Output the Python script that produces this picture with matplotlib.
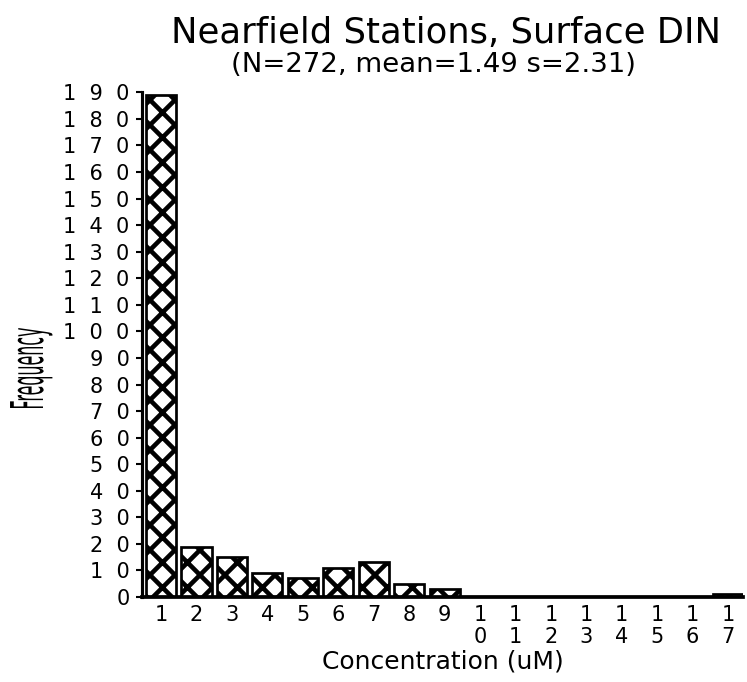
import numpy as np
import matplotlib.pyplot as plt
from matplotlib.textpath import TextPath
from matplotlib.patches import PathPatch
from matplotlib.font_manager import FontProperties
import matplotlib.transforms as mtransforms

# concentration bins (uM) and station counts
bins = list(range(1, 18))
counts = [189, 19, 15, 9, 7, 11, 13, 5, 3, 0, 0, 0, 0, 0, 0, 0, 1]
yticks = list(range(0, 200, 10))

plt.rcParams['hatch.linewidth'] = 2.2
plt.rcParams['font.family'] = 'DejaVu Sans'

W, H = 747, 682
fig = plt.figure(figsize=(W / 150, H / 150), dpi=150)
ax = fig.add_axes([0.190, 0.1246, 0.8046, 0.740])

ax.bar(bins, counts, width=0.85, color='white', edgecolor='black',
       linewidth=1.3, hatch='xx')

ax.set_xlim(0.46, 17.42)
ax.set_ylim(0, 190)

# spaced-out digits, multi-digit x labels stacked
ax.set_yticks(yticks)
ax.set_yticklabels(['  '.join(str(v)) for v in yticks], fontsize=10)
ax.set_xticks(bins)
ax.set_xticklabels(['\n'.join(str(b)) for b in bins], fontsize=10,
                   linespacing=1.1)
ax.tick_params(axis='y', length=3, width=1, pad=3)
ax.tick_params(axis='x', length=0, pad=4)

for s in ['top', 'right']:
    ax.spines[s].set_visible(False)
ax.spines['left'].set_linewidth(1.5)
ax.spines['bottom'].set_linewidth(1.8)

ax.set_xlabel('Concentration (uM)', fontsize=12, labelpad=1)

# tall, squeezed y label drawn as a path in pixel coordinates
tp = TextPath((0, 0), 'Frequency', size=1,
              prop=FontProperties(family='DejaVu Sans'))
ext = tp.get_extents()
sx = 80 / ext.width
sy = 33 / 0.73
tr = (mtransforms.Affine2D().translate(-ext.x0, 0).scale(sx, sy)
      .rotate_deg(90).translate(43, H - 408))
fig.add_artist(PathPatch(tp, transform=tr, facecolor='black',
                         edgecolor='none'))

fig.text(0.597, 0.952, 'Nearfield Stations, Surface DIN', fontsize=17,
         ha='center', va='center')
fig.text(0.580, 0.905, '(N=272, mean=1.49 s=2.31)', fontsize=13.2,
         ha='center', va='center')

fig.savefig('out.png', dpi=150)
